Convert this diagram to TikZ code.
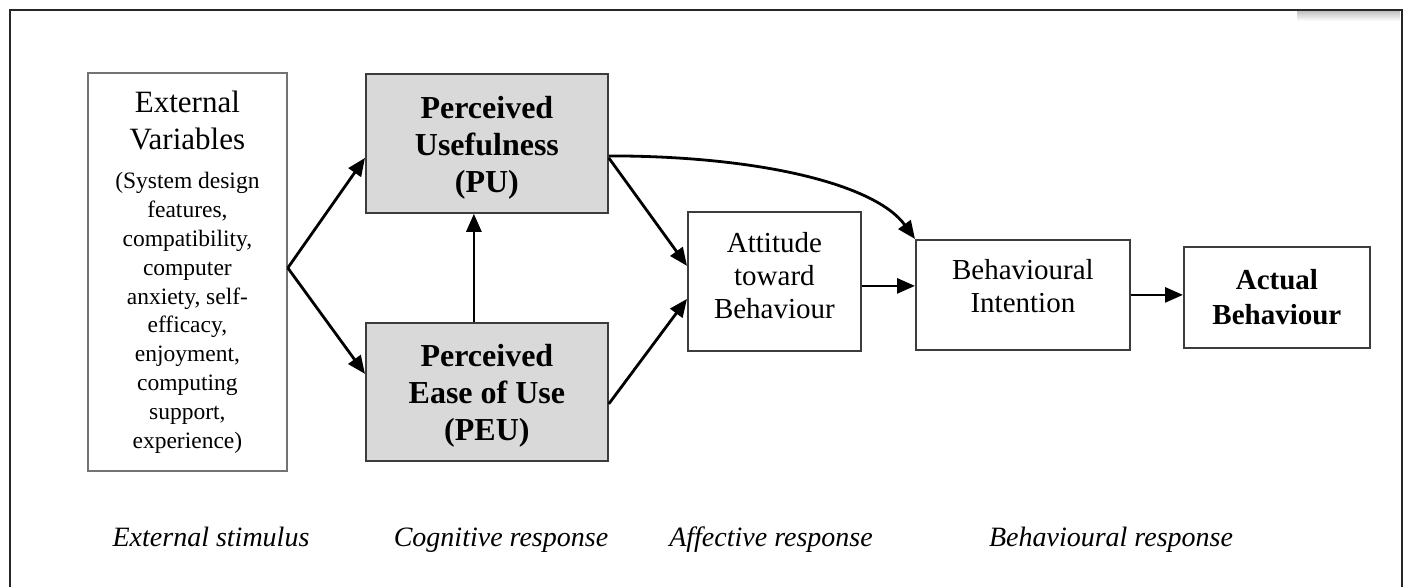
\documentclass[tikz,border=0pt]{standalone}
\usepackage{fontspec}
\setmainfont{Liberation Serif}
\usetikzlibrary{arrows.meta}
\definecolor{boxgray}{RGB}{217,217,217}
\definecolor{edgegray}{RGB}{60,60,60}

\begin{document}
\begin{tikzpicture}[x=1pt,y=-1pt,
  box/.style={draw=edgegray, line width=1.8pt, inner sep=0pt, anchor=north west,
    align=center, font=\fontsize{29}{33}\selectfont},
  shadedbox/.style={box, fill=boxgray, font=\bfseries\fontsize{32}{37}\selectfont},
  arr/.style={line width=2.8pt, -{Triangle[length=18pt,width=15pt]}},
  stage/.style={anchor=base, font=\itshape\fontsize{28}{32}\selectfont}]

\useasboundingbox (0,0) rectangle (1407,586);

% outer frame (open at the bottom) with a soft shadow at the top right
\shade[top color=black!22, bottom color=white] (1297,12) rectangle (1400,21);
\draw[line width=2pt, black!85] (10,592) -- (10,10) -- (1402,10) -- (1402,592);

% boxes
\node[box, draw=black!55, minimum width=199pt, minimum height=398pt, text width=195pt,
  align=flush center] (ext) at (87,72)
  {{\fontsize{31}{37}\selectfont External\\Variables\par}\vspace{11pt}
   {\fontsize{23.5}{28.8}\selectfont (System design\\features,\\compatibility,\\computer\\anxiety, self-\\efficacy,\\enjoyment,\\computing\\support,\\experience)\par}};
\node[shadedbox, minimum width=242pt, minimum height=139pt] (pu) at (365,73)
  {\\[-6pt]Perceived\\Usefulness\\(PU)};
\node[shadedbox, minimum width=242pt, minimum height=138pt] (peu) at (365,322)
  {\\[-6pt]Perceived\\Ease of Use\\(PEU)};
\node[box, minimum width=173pt, minimum height=139pt] (att) at (687,211)
  {Attitude\\toward\\Behaviour\\[-21pt]};
\node[box, minimum width=214pt, minimum height=110pt] (bi) at (915,239)
  {Behavioural\\Intention\\[-15pt]};
\node[box, minimum width=186pt, minimum height=101pt,
  font=\bfseries\fontsize{29}{35}\selectfont] (act) at (1183,246)
  {Actual\\Behaviour};

% stage labels
\node[stage] (s1) at (211,546) {External stimulus};
\node[stage] (s2) at (501,546) {Cognitive response};
\node[stage] (s3) at (771,546) {Affective response};
\node[stage] (s4) at (1111,546) {Behavioural response};

% connectors
\coordinate (fork) at ([yshift=4pt]ext.east);
\draw[arr] (fork) -- ([yshift=-14.5pt]pu.west);
\draw[arr] (fork) -- ([yshift=18pt]peu.west);
\draw[arr] ([xshift=-13pt]peu.north) -- ([xshift=-13pt]pu.south);
\draw[arr] ([yshift=-14.5pt]pu.east) -- ([yshift=15.5pt]att.west);
\draw[arr] ([yshift=-12pt]peu.east) -- ([yshift=-17.5pt]att.west);
\draw[arr] ([yshift=-12.5pt]pu.east) .. controls +(150,0) and +(-40,-55) .. (bi.north west);
\coordinate (attout) at ([yshift=-4.5pt]att.east);
\draw[arr] (attout) -- (attout -| bi.west);
\draw[arr] (bi.east) -- (bi.east -| act.west);
\end{tikzpicture}
\end{document}
